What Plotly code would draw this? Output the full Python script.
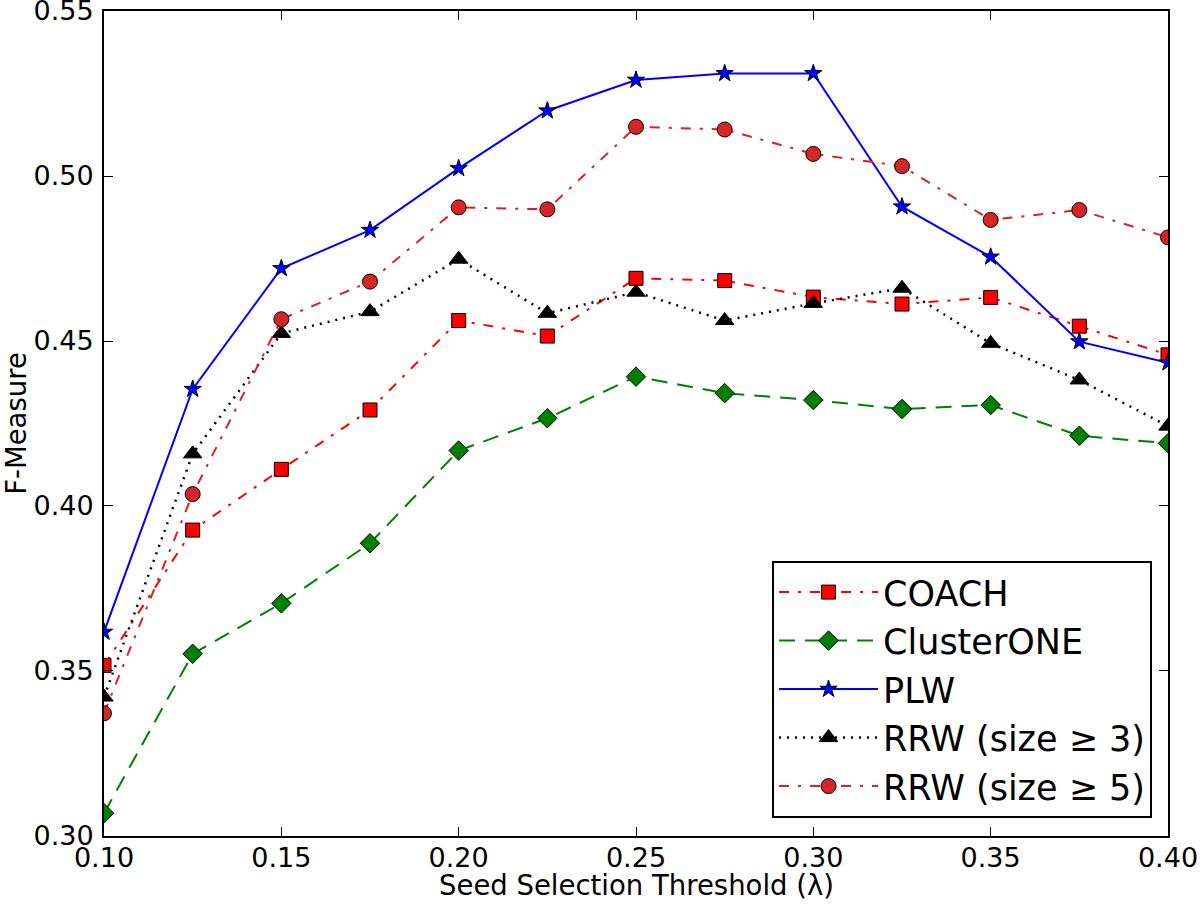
import plotly.graph_objects as go

thresholds = [0.100, 0.125, 0.150, 0.175, 0.200, 0.225, 0.250, 0.275, 0.300, 0.325, 0.350, 0.375, 0.400]

coach = [0.3517, 0.3927, 0.4111, 0.4291, 0.4562, 0.4515, 0.4690, 0.4683, 0.4633, 0.4612, 0.4632, 0.4545, 0.4458]
clusterone = [0.3069, 0.3552, 0.3705, 0.3887, 0.4168, 0.4266, 0.4392, 0.4342, 0.4321, 0.4294, 0.4306, 0.4213, 0.4190]
plw = [0.3618, 0.4354, 0.4720, 0.4836, 0.5023, 0.5198, 0.5291, 0.5311, 0.5311, 0.4907, 0.4755, 0.4498, 0.4434]
rrw3 = [0.3421, 0.4158, 0.4523, 0.4589, 0.4748, 0.4584, 0.4648, 0.4562, 0.4614, 0.4660, 0.4493, 0.4382, 0.4242]
rrw5 = [0.3372, 0.4036, 0.4566, 0.4680, 0.4905, 0.4899, 0.5149, 0.5141, 0.5067, 0.5030, 0.4867, 0.4897, 0.4814]

series_names = ["COACH", "ClusterONE", "PLW", "RRW (size \u2265 3)", "RRW (size \u2265 5)"]
x_ticks = [0.10, 0.15, 0.20, 0.25, 0.30, 0.35, 0.40]
y_ticks = [0.30, 0.35, 0.40, 0.45, 0.50, 0.55]
x_title = "Seed Selection Threshold (\u03bb)"
y_title = "F-Measure"

styles = [
    dict(color="#ff0000", fill="#ff0000", symbol="square", size=14, dash="10px,9px,3px,9px", width=2),
    dict(color="#008000", fill="#008000", symbol="diamond", size=15, dash="16px,10px", width=2),
    dict(color="#0000ff", fill="#0000ff", symbol="star", size=13, dash="solid", width=2),
    dict(color="#000000", fill="#000000", symbol="triangle-up", size=16, dash="2px,6px", width=2.5),
    dict(color="#e01f1f", fill="#d42626", symbol="circle", size=15, dash="10px,9px,3px,9px", width=2),
]

fig = go.Figure()
for name, ys, st in zip(series_names, [coach, clusterone, plw, rrw3, rrw5], styles):
    fig.add_trace(go.Scatter(
        x=thresholds, y=ys, name=name, mode="lines+markers",
        line=dict(color=st["color"], width=st["width"], dash=st["dash"]),
        marker=dict(symbol=st["symbol"], size=st["size"], color=st["fill"],
                    line=dict(color="black", width=1)),
    ))

axis_common = dict(
    showgrid=False, zeroline=False, showline=True, linecolor="black", linewidth=2,
    mirror="ticks", ticks="inside", ticklen=9, tickwidth=1, tickcolor="black",
    tickfont=dict(family="DejaVu Sans", size=27, color="black"),
    tickformat=".2f", automargin=False, ticklabeloverflow="allow",
)

fig.update_xaxes(range=[0.10, 0.40], tickvals=x_ticks, ticklabelstandoff=-3, **axis_common)
fig.update_yaxes(range=[0.29999, 0.55001], tickvals=y_ticks, ticklabelstandoff=3,
                 title=dict(text=y_title, standoff=5,
                            font=dict(family="DejaVu Sans", size=27.5, color="black")),
                 **axis_common)

fig.add_annotation(
    text=x_title, xref="paper", yref="paper", x=0.5, y=-0.059,
    xanchor="center", yanchor="middle", showarrow=False,
    font=dict(family="DejaVu Sans", size=27.5, color="black"),
)

fig.update_layout(
    width=1200, height=905,
    margin=dict(l=104, r=32, t=11, b=69),
    paper_bgcolor="white", plot_bgcolor="white",
    font=dict(family="DejaVu Sans", color="black"),
    legend=dict(
        x=0.985, y=0.022, xanchor="right", yanchor="bottom",
        bordercolor="black", borderwidth=2, bgcolor="white",
        font=dict(family="DejaVu Sans", size=35, color="black"),
        itemwidth=99,
    ),
)

fig.write_html("out.html", config={"displayModeBar": False},
               post_script="document.body.style.margin='0px';")
